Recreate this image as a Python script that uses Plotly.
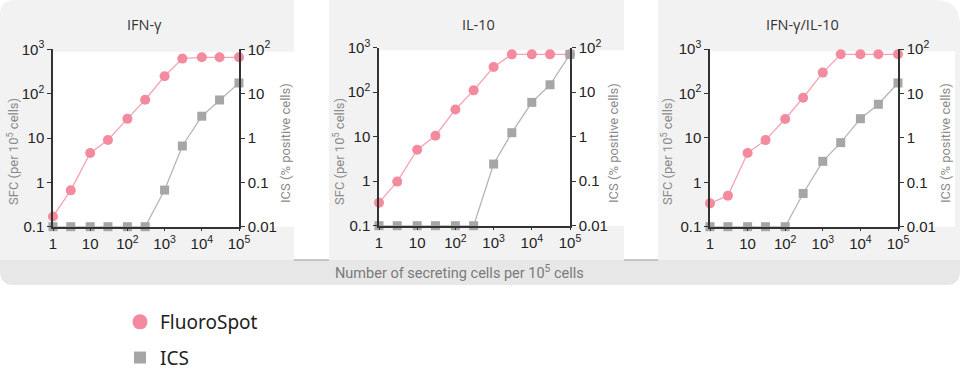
import plotly.graph_objects as go

# ---------------- data ----------------
cells = [1, 3, 10, 30, 100, 300, 1000, 3000, 10000, 30000, 100000]

ifng_sfc = [0.17, 0.66, 4.6, 9.0, 27, 73, 246, 617, 660, 660, 660]
ifng_ics = [0.01, 0.01, 0.01, 0.01, 0.01, 0.01, 0.067, 0.66, 3.1, 7.2, 17.4]

il10_sfc = [0.33, 0.98, 5.1, 10.5, 41, 110, 368, 708, 708, 708, 708]
il10_ics = [0.01, 0.01, 0.01, 0.01, 0.01, 0.01, 0.243, 1.23, 5.9, 14.7, 70.8]

dual_sfc = [0.335, 0.50, 4.55, 8.9, 26.6, 80, 294, 759, 759, 759, 759]
dual_ics = [0.01, 0.01, 0.01, 0.01, 0.01, 0.056, 0.296, 0.78, 2.7, 5.7, 17.2]

panel_titles = ["IFN-γ", "IL-10", "IFN-γ/IL-10"]
x_tickvals = [1, 10, 100, 1000, 10000, 100000]
x_ticktext = ["1", "10", "10<sup>2</sup>", "10<sup>3</sup>", "10<sup>4</sup>", "10<sup>5</sup>"]
sfc_tickvals = [0.1, 1, 10, 100, 1000]
sfc_ticktext = ["0.1", "1", "10", "10<sup>2</sup>", "10<sup>3</sup>"]
ics_tickvals = [0.01, 0.1, 1, 10, 100]
ics_ticktext = ["0.01", "0.1", "1", "10", "10<sup>2</sup>"]

series_names = ["FluoroSpot", "ICS"]
left_title = "SFC (per 10<sup>5</sup> cells)"
right_title = "ICS (% positive cells)"
bottom_title = "Number of secreting cells per 10<sup>5</sup> cells"

# ---------------- layout helpers ----------------
W, H = 960, 370
def px(x):
    return x / W
def py(y):
    return 1 - y / H

PINK = "#f38a9e"
PINK_LINE = "#f5a3b3"
GREY = "#a6a6a6"
GREY_LINE = "#b5b5b5"
AXIS = "#333333"
TXT = "#222222"
TITLE_GREY = "#8a8a8a"

# plot areas (pixels): left, right, top, bottom
areas = [(53, 239, 49.3, 226.7), (379, 570, 47.7, 225.7), (710, 898, 49, 226.7)]
panels = [(0, 294), (329, 624), (658, 960)]
white_right = [294, 624, 955]
data_sets = [(ifng_sfc, ifng_ics), (il10_sfc, il10_ics), (dual_sfc, dual_ics)]

fig = go.Figure()
tick_font = dict(family="Liberation Sans, Arial, sans-serif", size=15, color=TXT)

for i, ((l, r, t, b), (sfc, ics)) in enumerate(zip(areas, data_sets)):
    xn = "" if i == 0 else str(i + 1)
    yl = str(2 * i + 1) if i > 0 else ""
    yr = str(2 * i + 2)
    xa, ya_l, ya_r = "x" + xn, "y" + yl, "y" + yr

    fig.add_trace(go.Scatter(x=cells, y=ics, mode="lines+markers", xaxis=xa, yaxis=ya_r,
                             line=dict(color=GREY_LINE, width=1.3),
                             marker=dict(symbol="square", size=9, color=GREY),
                             cliponaxis=False, showlegend=False, name=series_names[1]))
    fig.add_trace(go.Scatter(x=cells, y=sfc, mode="lines+markers", xaxis=xa, yaxis=ya_l,
                             line=dict(color=PINK_LINE, width=1.3),
                             marker=dict(symbol="circle", size=10, color=PINK),
                             cliponaxis=False, showlegend=False, name=series_names[0]))

    common = dict(showline=True, linecolor=AXIS, linewidth=1.5, ticks="outside",
                  tickcolor=AXIS, tickwidth=1.2, showgrid=False, zeroline=False,
                  automargin=False, tickfont=tick_font)
    fig.update_layout(**{
        "xaxis" + xn: dict(type="log", range=[0, 5], domain=[px(l), px(r)], anchor=ya_l,
                           tickvals=x_tickvals, ticktext=x_ticktext, ticklen=3, **common),
        "yaxis" + yl: dict(type="log", range=[-1, 3], domain=[py(b), py(t)], anchor=xa,
                           tickvals=sfc_tickvals, ticktext=sfc_ticktext, ticklen=4, **common),
        "yaxis" + yr: dict(type="log", range=[-2, 2], overlaying=ya_l, side="right", anchor=xa,
                           tickvals=ics_tickvals, ticktext=ics_ticktext, ticklen=4, **common),
    })

# legend-only traces
fig.add_trace(go.Scatter(x=[None], y=[None], mode="markers", name=series_names[0],
                         marker=dict(symbol="circle", size=15, color=PINK), legendgroup="a"))
fig.add_trace(go.Scatter(x=[None], y=[None], mode="markers", name=series_names[1],
                         marker=dict(symbol="square", size=12, color=GREY), legendgroup="b"))

# ---------------- background shapes ----------------
shapes = []

R1 = 15
p1l, p1r = panels[0]
shapes.append(dict(type="path", xref="paper", yref="paper", layer="below",
                   path=f"M {px(p1l)},{py(260)} L {px(p1l)},{py(R1)} Q {px(p1l)},{py(0)} {px(R1)},{py(0)} "
                        f"L {px(p1r)},{py(0)} L {px(p1r)},{py(260)} Z",
                   fillcolor="#f2f2f2", line=dict(width=0)))
p2l, p2r = panels[1]
shapes.append(dict(type="rect", xref="paper", yref="paper", layer="below",
                   x0=px(p2l), x1=px(p2r), y0=py(260), y1=py(0),
                   fillcolor="#f2f2f2", line=dict(width=0)))
R3 = 25
p3l, p3r = panels[2]
shapes.append(dict(type="path", xref="paper", yref="paper", layer="below",
                   path=f"M {px(p3l)},{py(260)} L {px(p3l)},{py(0)} L {px(p3r - R3)},{py(0)} "
                        f"Q {px(p3r)},{py(0)} {px(p3r)},{py(R3)} L {px(p3r)},{py(260)} Z",
                   fillcolor="#f2f2f2", line=dict(width=0)))
# bottom band
RB = 14
shapes.append(dict(type="path", xref="paper", yref="paper", layer="below",
                   path=f"M {px(0)},{py(260)} L {px(960)},{py(260)} L {px(960)},{py(285 - RB)} "
                        f"Q {px(960)},{py(285)} {px(960 - RB)},{py(285)} L {px(RB)},{py(285)} "
                        f"Q {px(0)},{py(285)} {px(0)},{py(285 - RB)} Z",
                   fillcolor="#e7e7e7", line=dict(width=0)))
# gap lines
for g0, g1 in [(294, 329), (624, 658)]:
    shapes.append(dict(type="line", xref="paper", yref="paper", layer="below",
                       x0=px(g0), x1=px(g1), y0=py(260), y1=py(260),
                       line=dict(color="#b3b3b3", width=1.5)))
# white plot backgrounds
for (l, r, t, b), wr in zip(areas, white_right):
    shapes.append(dict(type="rect", xref="paper", yref="paper", layer="below",
                       x0=px(l), x1=px(wr), y0=py(b), y1=py(t + 2.5),
                       fillcolor="#ffffff", line=dict(width=0)))

# ---------------- annotations ----------------
ann = []
title_x = [144, 478, 802]
left_x = [13, 339, 667]
right_x = [285, 613, 945]
for i, (l, r, t, b) in enumerate(areas):
    ann.append(dict(x=px(title_x[i]), y=py(24), xref="paper", yref="paper", text=panel_titles[i],
                    showarrow=False, xanchor="center", yanchor="middle",
                    font=dict(family="Open Sans, sans-serif", size=14.5, color="#333333")))
    ann.append(dict(x=px(left_x[i]), y=py(152), xref="paper", yref="paper", text=left_title,
                    showarrow=False, textangle=-90, xanchor="center", yanchor="middle",
                    font=dict(family="Roboto, sans-serif", size=13, color=TITLE_GREY)))
    ann.append(dict(x=px(right_x[i]), y=py(143), xref="paper", yref="paper", text=right_title,
                    showarrow=False, textangle=-90, xanchor="center", yanchor="middle",
                    font=dict(family="Roboto, sans-serif", size=13, color=TITLE_GREY)))
ann.append(dict(x=px(459), y=py(272), xref="paper", yref="paper", text=bottom_title,
                showarrow=False, xanchor="center", yanchor="middle",
                font=dict(family="Roboto, sans-serif", size=14.5, color="#7a7a7a")))

fig.update_layout(
    width=W, height=H,
    margin=dict(l=0, r=0, t=0, b=0, pad=0, autoexpand=False),
    paper_bgcolor="#ffffff", plot_bgcolor="rgba(0,0,0,0)",
    shapes=shapes, annotations=ann,
    showlegend=True,
    legend=dict(x=px(120), y=py(303), xanchor="left", yanchor="top",
                font=dict(family="Noto Sans, sans-serif", size=19, color="#222222"),
                bgcolor="rgba(0,0,0,0)", borderwidth=0, tracegroupgap=8,
                itemsizing="trace"),
)

post = (
    "document.documentElement.style.margin='0';document.documentElement.style.overflow='hidden';"
    "document.body.style.margin='0';document.body.style.overflow='hidden';"
)

fig.write_html(
    "out.html",
    config={"displayModeBar": False},
    post_script=post,
)
